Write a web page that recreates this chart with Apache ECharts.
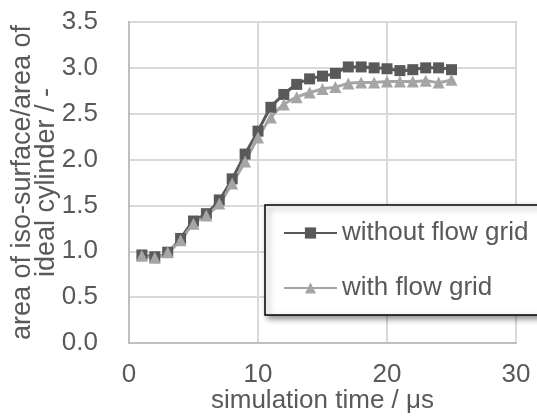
<!DOCTYPE html>
<html>
<head>
<meta charset="utf-8">
<script src="https://cdn.jsdelivr.net/npm/echarts@6/dist/echarts.min.js"></script>
<style>
html,body{margin:0;padding:0;background:#fff;}
#main{width:537px;height:419px;}
</style>
</head>
<body>
<div id="main"></div>
<script>
const times = [1,2,3,4,5,6,7,8,9,10,11,12,13,14,15,16,17,18,19,20,21,22,23,24,25];
const withoutFlowGrid = [0.96,0.94,0.99,1.14,1.33,1.41,1.56,1.79,2.06,2.31,2.57,2.71,2.82,2.88,2.91,2.94,3.01,3.01,3.00,2.99,2.97,2.98,3.00,3.00,2.98];
const withFlowGrid = [0.95,0.93,0.99,1.12,1.30,1.39,1.52,1.74,1.98,2.24,2.46,2.60,2.68,2.73,2.77,2.79,2.83,2.84,2.84,2.85,2.85,2.85,2.86,2.84,2.87];
const seriesNames = ['without flow grid','with flow grid'];
const xTitle = 'simulation time / μs';
const yTitle = 'area of iso-surface/area of\nideal cylinder / -';

const font = 'Liberation Sans, Arial, sans-serif';
const fs = 26;
const chart = echarts.init(document.getElementById('main'), null, {renderer:'canvas'});
chart.setOption({
  animation:false,
  backgroundColor:'#fff',
  grid:{left:129,right:21,top:22,bottom:76,containLabel:false,outerBoundsMode:'none',
        show:true,borderColor:'#bfbfbf',borderWidth:2,backgroundColor:'transparent'},
  xAxis:{
    type:'value',min:0,max:30,interval:10,
    name:xTitle,nameLocation:'middle',nameGap:45,nameMoveOverlap:false,
    nameTextStyle:{fontFamily:font,fontSize:fs,color:'#595959'},
    axisLine:{show:true,lineStyle:{color:'#bfbfbf',width:2}},
    axisTick:{show:false},
    axisLabel:{fontFamily:font,fontSize:fs,color:'#595959',margin:19},
    splitLine:{show:true,lineStyle:{color:'#d9d9d9',width:2}}
  },
  yAxis:{
    type:'value',min:0,max:3.5,interval:0.5,
    name:yTitle,nameLocation:'middle',nameGap:70,nameRotate:90,nameMoveOverlap:false,
    nameTextStyle:{fontFamily:font,fontSize:27,color:'#595959',lineHeight:24},
    axisLine:{show:true,lineStyle:{color:'#bfbfbf',width:2}},
    axisTick:{show:false},
    axisLabel:{fontFamily:font,fontSize:fs,color:'#595959',margin:31,formatter:v=>v.toFixed(1)},
    splitLine:{show:true,lineStyle:{color:'#d9d9d9',width:2}}
  },
  legend:{
    orient:'vertical',left:265,top:205,
    data:seriesNames,
    itemWidth:53,itemHeight:14,itemGap:29,
    padding:[15,40,14,18],
    backgroundColor:'#fff',borderColor:'#000',borderWidth:1.5,borderRadius:0,
    shadowBlur:6,shadowColor:'rgba(0,0,0,0.45)',shadowOffsetX:3,shadowOffsetY:3,
    textStyle:{fontFamily:font,fontSize:fs,color:'#595959',lineHeight:26}
  },
  series:[
    {name:seriesNames[0],type:'line',smooth:0.3,
     data:times.map((t,i)=>[t,withoutFlowGrid[i]]),
     symbol:'rect',symbolSize:11,showAllSymbol:true,
     lineStyle:{color:'#595959',width:3},itemStyle:{color:'#595959'}},
    {name:seriesNames[1],type:'line',smooth:0.3,
     data:times.map((t,i)=>[t,withFlowGrid[i]]),
     symbol:'triangle',symbolSize:12,showAllSymbol:true,
     lineStyle:{color:'#a5a5a5',width:3},itemStyle:{color:'#a5a5a5'}}
  ]
});
</script>
</body>
</html>
